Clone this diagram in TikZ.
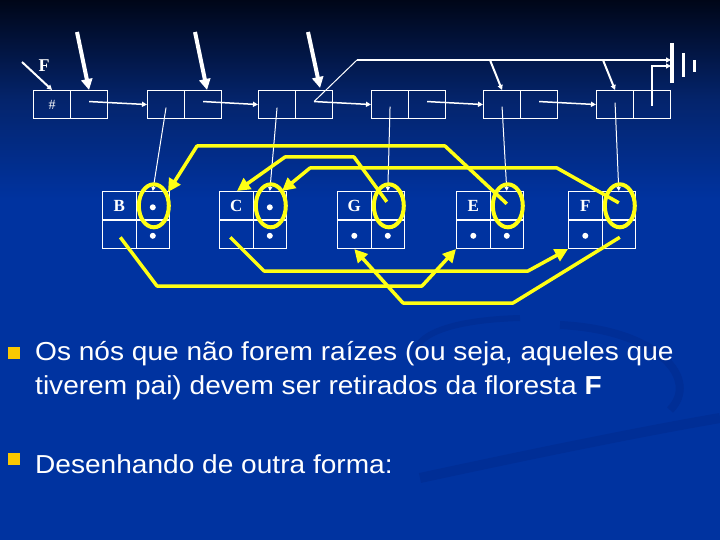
\documentclass[tikz,border=0pt]{standalone}
\usepackage{fontspec}
\setmainfont{Liberation Serif}
\newfontfamily\sansf{Liberation Sans}
\usetikzlibrary{arrows.meta,calc}
\definecolor{bgblue}{RGB}{0,51,160}
\definecolor{bgtop}{RGB}{0,6,24}
\definecolor{bgmid}{RGB}{4,36,108}
\definecolor{yel}{RGB}{255,255,20}
\definecolor{bul}{RGB}{250,200,0}
\definecolor{swoosh}{RGB}{0,46,150}
\tikzset{
  cellt/.style={rectangle,draw=white,line width=1.1pt,minimum width=37pt,minimum height=28pt,inner sep=0pt,anchor=north west},
  cellb/.style={rectangle,draw=white,line width=1.1pt,minimum width=33.5pt,minimum height=28.5pt,inner sep=0pt,anchor=north west},
  lab/.style={text=white,font=\fontsize{17}{17}\selectfont\bfseries,inner sep=0pt},
  bigarr/.style={draw=white,line width=4pt,-{Triangle[length=11pt,width=11pt]}},
  nextarr/.style={draw=white,line width=1.5pt,-{Triangle[length=5pt,width=5pt]}},
  thinw/.style={draw=white,line width=1pt},
  thinarr/.style={draw=white,line width=1pt,-{Triangle[length=4pt,width=4pt]}},
  medw/.style={draw=white,line width=2pt},
  medarr/.style={draw=white,line width=2pt,-{Triangle[length=5pt,width=5pt]}},
  yelline/.style={draw=yel,line width=3.5pt,line join=round},
  yelarr/.style={yelline,-{Triangle[length=13pt,width=13pt]}},
  yring/.style={draw=yel,line width=4pt},
  btext/.style={text=white,font=\sansf\fontsize{26}{34}\selectfont,anchor=base west,inner sep=0pt},
}
\begin{document}
\begin{tikzpicture}[x=1pt,y=-1pt]
\useasboundingbox (0,0) rectangle (720,540);
% background
\fill[bgblue] (0,0) rectangle (720,540);
\shade[top color=bgtop,bottom color=bgmid] (0,0) rectangle (720,100);
\shade[top color=bgmid,bottom color=bgblue] (0,100) rectangle (720,200);
\draw[swoosh,line width=10pt] (420,478) .. controls (550,450) and (650,430) .. (720,418);
\draw[swoosh,line width=8pt] (560,325) .. controls (660,330) and (700,380) .. (670,410);
\draw[swoosh,line width=6pt] (415,360) .. controls (410,335) and (450,320) .. (520,318);

% top list
\foreach \i/\L in {1/33,2/147,3/258,4/371,5/483,6/596}{
  \node[cellt] (tl\i) at (\L,90) {};
  \node[cellt] (tr\i) at (\L+37,90) {};
}
\node[text=white,font=\fontsize{14}{14}\selectfont,inner sep=0pt] (hash) at (tl1.center) {\#};
\node[text=white,font=\fontsize{18}{18}\selectfont\bfseries,inner sep=0pt] (flab) at (44,66) {F};

% bottom nodes
\foreach \n/\L in {b/102,c/219,g/337,e/456,f/568}{
  \node[cellb] (\n-tl) at (\L,191) {};
  \node[cellb] (\n-tr) at (\L+33.5,191) {};
  \node[cellb] (\n-bl) at (\L,219.5) {};
  \node[cellb] (\n-br) at (\L+33.5,219.5) {};
}
\node[lab] (labB) at (b-tl.center) {B};
\node[lab] (labC) at (c-tl.center) {C};
\node[lab] (labG) at (g-tl.center) {G};
\node[lab] (labE) at (e-tl.center) {E};
\node[lab] (labF) at (f-tl.center) {F};
\foreach \c in {b-tr,b-br,c-tr,c-br,g-bl,g-br,e-bl,e-br,f-bl}{
  \fill[white] ($(\c.center)+(0,1.5)$) circle (3pt);
}

% ground symbol
\coordinate (gnd) at (671,60);
\coordinate (gnd2) at (671,66);
\draw[white,line width=3.5pt] (672,43) -- (672,83);
\draw[white,line width=3pt] (683,53) -- (683,77);
\draw[white,line width=3pt] (694,60) -- (694,72);

% white connectors
\coordinate (s1) at (77,32);
\coordinate (s2) at (195,32);
\coordinate (s3) at (308,32);
\draw[bigarr] (s1) -- ([xshift=0pt]tr1.north);
\draw[bigarr] (s2) -- ([xshift=4pt]tr2.north);
\draw[bigarr] (s3) -- ([xshift=6pt,yshift=2pt]tr3.north);
\coordinate (fs) at (22,62);
\draw[medarr] (fs) -- (tl1.north);
\foreach \a/\b in {1/2,2/3,3/4,4/5,5/6}{
  \draw[nextarr] ([yshift=3pt]tr\a.center) -- (tl\b.west);
}
\coordinate (hs) at (357,60);
\draw[thinw] ([yshift=3pt]tr3.center) -- (hs);
\draw[medarr] (hs) -- (gnd);
\coordinate (h5) at (490,60);
\coordinate (h6) at (603,60);
\draw[medarr] (h5) -- (tl5.north);
\draw[medarr] (h6) -- (tl6.north);
\draw[nextarr] ([yshift=-1pt]tr6.center) |- (gnd2);
\draw[thinarr] ([yshift=-3pt]tl2.center) -- (b-tr.north);
\draw[thinarr] ([yshift=-3pt]tl3.center) -- (c-tr.north);
\draw[thinarr] ([yshift=-2pt]tl4.center) -- (g-tr.north);
\draw[thinarr] ([yshift=-2pt]tl5.center) -- (e-tr.north);
\draw[thinarr] ([yshift=2pt]tl6.center) -- (f-tr.north);

% yellow rings
\foreach \c in {b-tr,c-tr,g-tr,e-tr,f-tr}{
  \draw[yring] ($(\c.center)+(1,0)$) ellipse [x radius=15pt, y radius=21.5pt];
}
% yellow connectors
\coordinate (y1a) at (445,146); \coordinate (y1b) at (197,146);
\draw[yelarr] ($(e-tr.center)+(0,-2)$) -- (y1a) -- (y1b) -- (168,192);
\coordinate (y2a) at (354,157); \coordinate (y2b) at (285,157);
\draw[yelarr] ($(g-tr.center)+(-1,-4)$) -- (y2a) -- (y2b) -- (237,191);
\coordinate (y3a) at (557,168); \coordinate (y3b) at (310,168);
\draw[yelarr] ($(f-tr.center)+(0,-3)$) -- (y3a) -- (y3b) -- (282,191);
\coordinate (y4a) at (157,286); \coordinate (y4b) at (422,286);
\draw[yelarr] ($(b-bl.center)+(1,3)$) -- (y4a) -- (y4b) -- (e-bl.south west);
\coordinate (y5a) at (264,271); \coordinate (y5b) at (528,271);
\draw[yelarr] ($(c-bl.center)+(-6,3)$) -- (y5a) -- (y5b) -- (f-bl.south west);
\coordinate (y6a) at (513,303); \coordinate (y6b) at (403,303);
\draw[yelarr] ($(f-br.center)+(1,3)$) -- (y6a) -- (y6b) -- (g-bl.south);

% bullets and text
\fill[bul] (8,347) rectangle (20,359);
\fill[bul] (8,453) rectangle (20,465);
\node[btext] (t1) at (35,360) {\scalebox{1.08}[1]{Os nós que não forem raízes (ou seja, aqueles que}};
\node[btext] (t2) at (35,394) {\scalebox{1.08}[1]{tiverem pai) devem ser retirados da floresta \textbf{F}}};
\node[btext] (t3) at (35,473) {\scalebox{1.08}[1]{Desenhando de outra forma:}};
\end{tikzpicture}
\end{document}
